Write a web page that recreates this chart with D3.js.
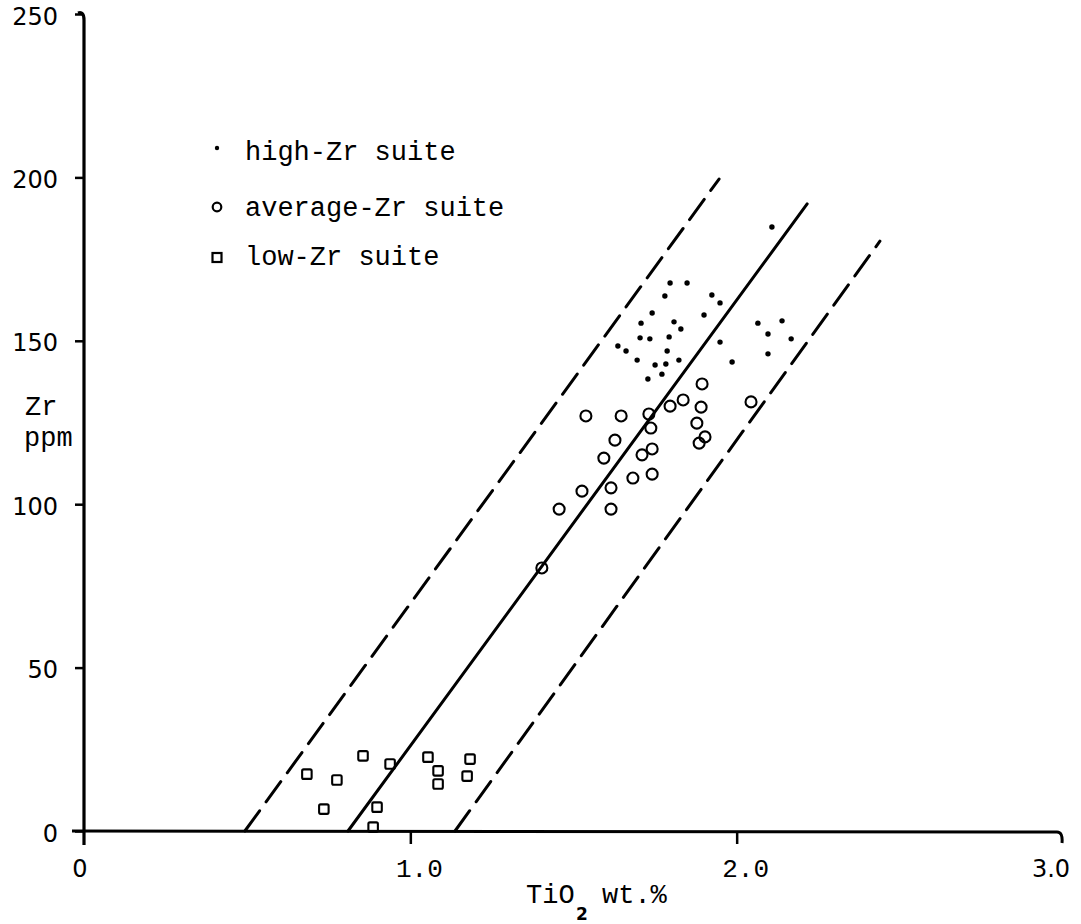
<!DOCTYPE html>
<html>
<head>
<meta charset="utf-8">
<script src="https://cdn.jsdelivr.net/npm/d3@7"></script>
<style>
  html, body { margin: 0; padding: 0; background: #fff; }
  svg { display: block; }
</style>
</head>
<body>
<svg id="chart" width="1081" height="924"></svg>
<script>
// ---------------- DATA ----------------
const xTicks = [0, 1.0, 2.0, 3.0];
const xTickLabels = ["0", "1.0", "2.0", "3.0"];
const yTicks = [0, 50, 100, 150, 200, 250];
const yTickLabels = ["0", "50", "100", "150", "200", "250"];

// high-Zr suite (dots)
const highTiO2 = [1.796, 1.848, 1.780, 1.924, 1.949, 1.741, 1.900, 1.707, 1.808, 1.829,
                  1.704, 1.734, 1.793, 1.949, 1.636, 1.661, 1.787, 1.695, 1.823, 1.750,
                  1.783, 1.986, 1.728, 1.771, 2.065, 2.139, 2.096, 2.167, 2.096, 2.108];
const highZr   = [167.7, 167.7, 163.7, 164.0, 161.6, 158.5, 157.9, 155.4, 155.8, 153.6,
                  150.9, 150.6, 151.2, 149.6, 148.4, 146.9, 146.9, 144.1, 144.1, 142.6,
                  142.9, 143.5, 138.3, 139.8, 155.4, 156.1, 152.1, 150.6, 146.0, 184.8];

// average-Zr suite (open circles)
const avgTiO2 = [1.894, 1.836, 1.796, 1.891, 1.538, 1.646, 1.731, 2.044, 1.878, 1.737,
                 1.903, 1.885, 1.627, 1.741, 1.710, 1.593, 1.682, 1.741, 1.526, 1.615,
                 1.456, 1.615, 1.403];
const avgZr   = [136.8, 131.9, 130.0, 129.7, 127.0, 127.0, 127.6, 131.3, 124.8, 123.3,
                 120.6, 118.7, 119.6, 116.9, 115.1, 114.1, 108.0, 109.2, 104.0, 105.0,
                 98.5, 98.5, 80.5];

// low-Zr suite (open squares)
const lowTiO2 = [0.855, 0.938, 1.054, 1.183, 0.683, 0.775, 1.085, 1.174, 1.085, 0.735, 0.898, 0.886];
const lowZr   = [23.0, 20.5, 22.6, 22.0, 17.4, 15.6, 18.4, 16.8, 14.4, 6.7, 7.3, 1.2];

// reference lines (endpoints)
const solidTiO2 = [0.809, 2.216];
const solidZr   = [0, 191.9];
const leftDashTiO2 = [0.493, 1.946];
const leftDashZr   = [0, 199.5];
const rightDashTiO2 = [1.137, 2.439];
const rightDashZr   = [0, 180.5];

const legendLabels = ["high-Zr suite", "average-Zr suite", "low-Zr suite"];

// ---------------- DRAW ----------------
const svg = d3.select("#chart");
const x = d3.scaleLinear().domain([0, 3]).range([84, 1063]);
const y = d3.scaleLinear().domain([0, 250]).range([831, 14]);

const mono = "'Liberation Mono', 'DejaVu Sans Mono', monospace";
const sans = "'DejaVu Sans', sans-serif";

// Reference lines
const lineGen = d3.line().x(d => x(d[0])).y(d => y(d[1]));
function refLine(xs, ys, dash) {
  svg.append("path")
    .attr("d", lineGen(d3.zip(xs, ys)))
    .attr("fill", "none")
    .attr("stroke", "#000")
    .attr("stroke-width", 3)
    .attr("stroke-linecap", "round")
    .attr("stroke-dasharray", dash);
}
refLine(solidTiO2, solidZr, null);
refLine(leftDashTiO2, leftDashZr, "25,11");
refLine(rightDashTiO2, rightDashZr, "25,11");

// Y axis (ticks via d3 axis)
const yAxis = d3.axisLeft(y).tickValues(yTicks).tickSize(9).tickPadding(17)
  .tickFormat((d, i) => yTickLabels[i]);
const gy = svg.append("g").attr("transform", `translate(${x(0)},0)`).call(yAxis);
gy.select(".domain").remove();
gy.selectAll(".tick line").attr("stroke", "#000").attr("stroke-width", 2.5);
gy.selectAll(".tick text").attr("font-family", sans).attr("font-size", 24).attr("fill", "#000")
  .attr("dy", "0.42em");

// Y axis line with hook at the top
svg.append("path")
  .attr("d", `M${x(0) - 6},${y(250) - 1} Q${x(0)},${y(250) - 3} ${x(0)},${y(250) + 6} L${x(0)},${y(0) + 14}`)
  .attr("fill", "none").attr("stroke", "#000").attr("stroke-width", 3.2);

// X axis line with hook at the end
svg.append("path")
  .attr("d", `M${x(0) - 12},${y(0)} L${x(3) - 6},${y(0) + 1} Q${x(3)},${y(0) + 1} ${x(3) - 1},${y(0) + 12}`)
  .attr("fill", "none").attr("stroke", "#000").attr("stroke-width", 3);

// X ticks
const xAxis = d3.axisBottom(x).tickValues(xTicks.filter(v => v > 0 && v < 3)).tickSize(13).tickFormat("");
const gx = svg.append("g").attr("transform", `translate(0,${y(0)})`).call(xAxis);
gx.select(".domain").remove();
gx.selectAll(".tick line").attr("stroke", "#000").attr("stroke-width", 2.5);

// X tick labels
svg.selectAll("text.xlab").data(xTicks).enter().append("text")
  .attr("class", "xlab")
  .attr("x", (d, i) => i === 0 ? x(d) - 4 : (i === 3 ? x(d) - 12 : x(d) + 9))
  .attr("y", y(0) + 46)
  .attr("text-anchor", "middle")
  .attr("font-family", (d, i) => (i === 0 || i === 3) ? sans : mono)
  .attr("font-size", (d, i) => (i === 0 || i === 3) ? 24 : 26)
  .attr("fill", "#000")
  .text((d, i) => xTickLabels[i]);

// Axis titles
svg.append("text").attr("x", 526).attr("y", 903).attr("font-family", mono).attr("font-size", 27)
  .attr("fill", "#000").text("TiO");
svg.append("text").attr("x", 582).attr("y", 920).attr("text-anchor", "middle")
  .attr("font-family", sans).attr("font-size", 17).attr("font-weight", "bold").attr("fill", "#000").text("2");
svg.append("text").attr("x", 602).attr("y", 903).attr("font-family", mono).attr("font-size", 27)
  .attr("fill", "#000").text("wt.%");

svg.append("text").attr("x", 25).attr("y", 415).attr("font-family", mono).attr("font-size", 27)
  .attr("fill", "#000").text("Zr");
svg.append("text").attr("x", 24).attr("y", 446).attr("font-family", mono).attr("font-size", 27)
  .attr("fill", "#000").text("ppm");

// Data marks
svg.append("g").selectAll("circle").data(d3.zip(highTiO2, highZr)).enter().append("circle")
  .attr("cx", d => x(d[0])).attr("cy", d => y(d[1])).attr("r", 2.7).attr("fill", "#000");

svg.append("g").selectAll("circle").data(d3.zip(avgTiO2, avgZr)).enter().append("circle")
  .attr("cx", d => x(d[0])).attr("cy", d => y(d[1])).attr("r", 5.5)
  .attr("fill", "none").attr("stroke", "#000").attr("stroke-width", 2.1);

const sq = 9.5;
svg.append("g").selectAll("rect").data(d3.zip(lowTiO2, lowZr)).enter().append("rect")
  .attr("x", d => x(d[0]) - sq / 2).attr("y", d => y(d[1]) - sq / 2)
  .attr("width", sq).attr("height", sq).attr("rx", 1.5)
  .attr("fill", "none").attr("stroke", "#000").attr("stroke-width", 2.1);

// Legend
const legX = 217, legTextX = 245;
const legBase = [160, 216, 265];
const leg = svg.append("g");
leg.append("circle").attr("cx", legX).attr("cy", legBase[0] - 12).attr("r", 2.2).attr("fill", "#000");
leg.append("circle").attr("cx", legX).attr("cy", legBase[1] - 9).attr("r", 4.3)
  .attr("fill", "none").attr("stroke", "#000").attr("stroke-width", 2.2);
leg.append("rect").attr("x", legX - 4.5).attr("y", legBase[2] - 12).attr("width", 9).attr("height", 9)
  .attr("fill", "none").attr("stroke", "#000").attr("stroke-width", 2.2);
leg.selectAll("text").data(legendLabels).enter().append("text")
  .attr("x", legTextX).attr("y", (d, i) => legBase[i])
  .attr("font-family", mono).attr("font-size", 27).attr("fill", "#000")
  .text(d => d);
</script>
</body>
</html>
